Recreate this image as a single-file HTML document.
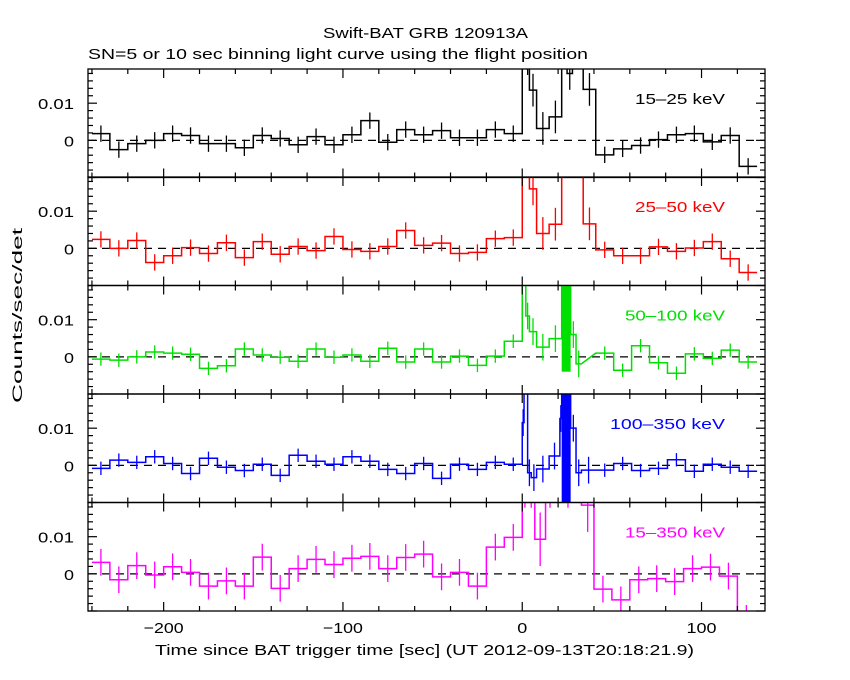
<!DOCTYPE html>
<html><head><meta charset="utf-8"><style>
body{margin:0;background:#fff;}
svg{display:block;font-family:"Liberation Sans",sans-serif;}
</style></head><body>
<svg id="chart" width="850" height="680" viewBox="0 0 850 680" xmlns="http://www.w3.org/2000/svg">
<rect width="850" height="680" fill="#fff"/>
<text x="323" y="38" font-size="15" textLength="205" lengthAdjust="spacingAndGlyphs">Swift-BAT GRB 120913A</text>
<text x="88" y="59" font-size="15" textLength="500" lengthAdjust="spacingAndGlyphs">SN=5 or 10 sec binning light curve using the flight position</text>
<text transform="translate(22,403) rotate(-90)" font-size="14" textLength="175" lengthAdjust="spacingAndGlyphs">Counts/sec/det</text>
<text x="155" y="655" font-size="15" textLength="539" lengthAdjust="spacingAndGlyphs">Time since BAT trigger time [sec] (UT 2012-09-13T20:18:21.9)</text>
<g id="panels"></g>
</svg>
<script>
const preStart = -240;
const p1Pre = [0.0018,-0.0025,-0.0009,0,0.0018,0.0013,-0.0009,-0.0009,-0.002,0.0013,0.0005,-0.0012,0.001,-0.0012,0.0015,0.0053,-0.0005,0.0029,0.0015,0.0026,0.0007,0.0007,0.0029,0.0018];
const p2Pre = [0.0024,0,0.0021,-0.0038,-0.002,0.0002,-0.0014,0.0015,-0.0025,0.0018,-0.0016,0.0005,-0.0006,0.0032,-0.0003,-0.0008,0.0005,0.0048,0.0008,0.0014,-0.0014,-0.0011,0.0026,0.0029];
const p3Pre = [-0.0006,-0.0009,0,0.0013,0.001,0.0007,-0.0031,-0.0024,0.0021,0.0005,-0.0001,-0.0012,0.0021,-0.0001,0.0005,-0.0012,0.0023,-0.0014,0.0021,-0.0014,0.0002,-0.0023,0.0002,0.0042];
const p4Pre = [-0.0008,0.0014,0.0008,0.0023,0.0005,-0.0022,0.0019,-0.0005,-0.0014,0.0003,-0.0027,0.0027,0.0011,0.0003,0.0023,0.0011,-0.0011,-0.0022,0.0005,-0.0035,0.0003,-0.0011,0.0008,0.0003];
const p5Pre = [0.0031,-0.0016,0.0022,-0.0003,0.0019,0.0004,-0.0033,-0.0019,-0.0033,0.0045,-0.0039,0.0014,0.0039,0.0025,0.0042,0.0047,0.0014,0.0044,0.0053,-0.0008,0.0004,-0.0033,0.0072,0.0098];

const p1BurstEdges = [0,2,4,8,15,22,25,28,30,34,41];
const p1BurstVals = [0.025,0.022,0.0135,0.0032,0.0063,0.025,0.018,0.025,0.025,0.0137];
const p2BurstEdges = [0,2,4,8,15,22,28,34,41];
const p2BurstVals = [0.025,0.025,0.016,0.004,0.0065,0.025,0.025,0.0066];
const p3BurstEdges = [0,2,4,8,15,22,27,30,33];
const p3BurstVals = [0.025,0.011,0.0068,0.0026,0.0049,0.02,0.006,-0.0019];
const p4BurstEdges = [0,1,3,5,8,15,21,22,27,30,33,41];
const p4BurstVals = [0.0115,0.025,-0.002,-0.0033,-0.001,0.0025,0.0126,0.02,0.01,-0.002,-0.0013];
const p5BurstEdges = [0,3,7,13,18,33,40];
const p5BurstVals = [0.025,0.025,0.0093,0.025,0.025,0.0185];

const p1PostStart = 41, p1Post = [-0.0039,-0.0023,-0.0014,0.0002,0.0015,0.0018,-0.0004,0.0013,-0.007];
const p2PostStart = 41, p2Post = [-0.0004,-0.002,-0.002,0.0004,-0.0008,0.0001,0.0018,-0.0028,-0.0065];
const p3PostStart = 41, p3Post = [0.001,-0.0036,0.003,-0.0016,-0.0044,0.0008,-0.0004,0.0018,-0.0014];
const p4PostStart = 41, p4Post = [-0.0013,0.0005,-0.0014,-0.0008,0.0015,-0.0016,0.0003,-0.0005,-0.0016];
const p5PostStart = 40, p5Post = [-0.0041,-0.007,-0.0016,-0.0013,-0.0021,0.0014,0.0018,-0.0006,-0.012];

const denseStarts = [null,null,22,22,null];
const denseEnds = [null,null,27,27,null];
const denseLow = [null,null,-0.004,-0.01,null];

const xTicks = [-200,-100,0,100];
const yTicks = [0,0.01];
const yTickLabels = ["0","0.01"];
const bandLabels = ["15\u201325 keV","25\u201350 keV","50\u2013100 keV","100\u2013350 keV","15\u2013350 keV"];
const colors = ["#000","#ff0000","#00e000","#0000ff","#ff00ff"];
const errs = [0.0022,0.0022,0.0018,0.0018,0.0036];

const X0=88,X1=765, T0=-242.2, T1=135.4;
const tops=[69,177,285.5,394,502.5], PH=108.5, YMIN=-0.01, YMAX=0.0192;
function xs(t){return X0+(t-T0)/(T1-T0)*(X1-X0);}
function ys(v,p){return tops[p]+(YMAX-v)/(YMAX-YMIN)*PH;}
const NS="http://www.w3.org/2000/svg";
const root=document.getElementById('panels');
function mk(tag,attrs,parent){const e=document.createElementNS(NS,tag);for(const k in attrs)e.setAttribute(k,attrs[k]);(parent||root).appendChild(e);return e;}

const pres=[p1Pre,p2Pre,p3Pre,p4Pre,p5Pre];
const bEdges=[p1BurstEdges,p2BurstEdges,p3BurstEdges,p4BurstEdges,p5BurstEdges];
const bVals=[p1BurstVals,p2BurstVals,p3BurstVals,p4BurstVals,p5BurstVals];
const postStarts=[p1PostStart,p2PostStart,p3PostStart,p4PostStart,p5PostStart];
const posts=[p1Post,p2Post,p3Post,p4Post,p5Post];
const labelWidths=[90,90,100,115,100];

for(let p=0;p<5;p++){
  const g=mk('g',{});
  
  
  const cp=mk('clipPath',{id:'cp'+p},g);
  mk('rect',{x:X0,y:tops[p],width:X1-X0,height:PH},cp);
  const dg=mk('g',{'clip-path':'url(#cp'+p+')'},g);
  const zl=mk('line',{x1:X0,x2:X1,y1:ys(0,p),y2:ys(0,p),stroke:'#000','stroke-width':1.3,'stroke-dasharray':'8,6'},dg);
  
  
  const bins=[];
  pres[p].forEach((v,i)=>bins.push([preStart+10*i,preStart+10*(i+1),v,true]));
  for(let i=0;i<bVals[p].length;i++)bins.push([bEdges[p][i],bEdges[p][i+1],bVals[p][i],false]);
  posts[p].forEach((v,i)=>bins.push([postStarts[p]+10*i,postStarts[p]+10*(i+1),v,true]));
  let d='';
  bins.forEach((b,i)=>{
    const xa=xs(b[0]),xb=xs(b[1]),y=ys(b[2],p);
    if(i===0)d+='M'+xa+','+y; else d+='L'+xa+','+y;
    d+='L'+xb+','+y;
  });
  const path=mk('path',{d:d,fill:'none',stroke:colors[p],'stroke-width':1.5},dg);
  
  
  bins.forEach(b=>{
    const xc=xs((b[0]+b[1])/2);
    const e=b[3]?errs[p]:errs[p]*2;
    const el=mk('line',{x1:xc,x2:xc,y1:ys(b[2]+e,p),y2:ys(b[2]-e,p),stroke:colors[p],'stroke-width':1.3},dg);
    
    
  });
  if(denseStarts[p]!==null){
    const r=mk('rect',{x:xs(denseStarts[p]),y:ys(YMAX,p),width:xs(denseEnds[p])-xs(denseStarts[p]),height:ys(denseLow[p],p)-ys(YMAX,p),fill:colors[p]},dg);
    
    
  }
  const fr=mk('rect',{x:X0,y:tops[p],width:X1-X0,height:PH,fill:'none',stroke:'#000','stroke-width':1.3},g);
  
  
  for(let t=-240;t<=130;t+=20){
    const major=(t%100===0);const L=major?9:5;const x=xs(t);
    mk('line',{x1:x,x2:x,y1:tops[p],y2:tops[p]+L,stroke:'#000','stroke-width':1.2},g);
    mk('line',{x1:x,x2:x,y1:tops[p]+PH,y2:tops[p]+PH-L,stroke:'#000','stroke-width':1.2},g);
  }
  for(let k=-5;k<=9;k++){
    const v=k*0.002;if(v<YMIN||v>YMAX)continue;
    const major=(k%5===0);const L=major?9:5;const y=ys(v,p);
    mk('line',{x1:X0,x2:X0+L,y1:y,y2:y,stroke:'#000','stroke-width':1.2},g);
    mk('line',{x1:X1,x2:X1-L,y1:y,y2:y,stroke:'#000','stroke-width':1.2},g);
  }
  yTicks.forEach((v,i)=>{
    const w=yTickLabels[i].length>1?36:10;
    const t=mk('text',{x:74-w,y:ys(v,p)+6,'font-size':15,textLength:w,lengthAdjust:'spacingAndGlyphs'},g);
    
    
    t.textContent=yTickLabels[i];
  });
  const bl=mk('text',{x:725-labelWidths[p],y:tops[p]+35,'font-size':15,fill:colors[p],textLength:labelWidths[p],lengthAdjust:'spacingAndGlyphs'},g);
  
  
  bl.textContent=bandLabels[p];
}
xTicks.forEach(t=>{
  const s=(t<0?'\u2212':'')+Math.abs(t);
  const w=s.length*10;
  const e=mk('text',{x:xs(t)-w/2,y:633,'font-size':15,textLength:w,lengthAdjust:'spacingAndGlyphs'});
  
  
  e.textContent=s;
});
</script>
</body></html>
